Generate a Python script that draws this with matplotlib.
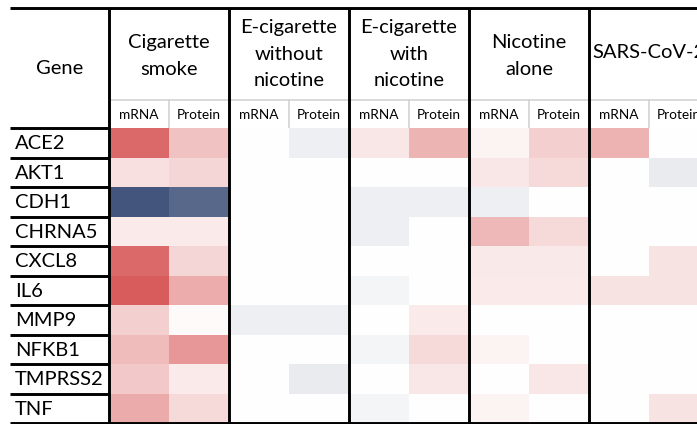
import numpy as np
import matplotlib
matplotlib.use("Agg")
import matplotlib.pyplot as plt
from matplotlib.colors import LinearSegmentedColormap

plt.rcParams['font.family'] = ['Lato', 'DejaVu Sans']

# data: log-fold-change like scores, (mRNA, Protein) per gene
genes = ['ACE2', 'AKT1', 'CDH1', 'CHRNA5', 'CXCL8', 'IL6', 'MMP9', 'NFKB1', 'TMPRSS2', 'TNF']
groups = ['Cigarette\nsmoke', 'E-cigarette\nwithout\nnicotine', 'E-cigarette\nwith\nnicotine',
          'Nicotine\nalone', 'SARS-CoV-2']
measures = ['mRNA', 'Protein']

cigarette_smoke = [(0.82, 0.33), (0.17, 0.22), (-0.95, -0.85), (0.11, 0.11), (0.82, 0.22),
                   (0.89, 0.45), (0.26, 0.03), (0.37, 0.57), (0.30, 0.11), (0.46, 0.20)]
ecig_without_nic = [(0.0, -0.09), (0.0, 0.0), (0.0, 0.0), (0.0, 0.0), (0.0, 0.0),
                    (0.0, 0.0), (-0.09, -0.09), (0.0, 0.0), (0.0, -0.11), (0.0, 0.0)]
ecig_with_nic = [(0.14, 0.41), (0.0, 0.0), (-0.09, -0.09), (-0.09, 0.0), (0.0, 0.0),
                 (-0.06, 0.0), (0.0, 0.11), (-0.06, 0.20), (0.0, 0.14), (-0.06, 0.0)]
nicotine_alone = [(0.07, 0.26), (0.14, 0.20), (-0.09, 0.0), (0.39, 0.20), (0.12, 0.12),
                  (0.11, 0.11), (0.0, 0.0), (0.07, 0.0), (0.0, 0.14), (0.07, 0.0)]
sars_cov2 = [(0.42, 0.0), (0.0, -0.11), (0.0, 0.0), (0.0, 0.0), (0.0, 0.15),
             (0.15, 0.15), (0.0, 0.0), (0.0, 0.0), (0.0, 0.0), (0.0, 0.15)]

data = np.hstack([np.array(g) for g in
                  [cigarette_smoke, ecig_without_nic, ecig_with_nic, nicotine_alone, sars_cov2]])

cmap = LinearSegmentedColormap.from_list('bwr_tab', ['#3A4D76', '#FFFFFF', '#D44848'])

# layout in pixels
W, H = 697, 424
left, gene_right = 10, 109
top, sub_top, head_bottom, bottom = 8, 100, 128, 423
col_w = 60
row_h = (bottom - head_bottom) / len(genes)

fig = plt.figure(figsize=(W / 100, H / 100), dpi=100)
ax = fig.add_axes([0, 0, 1, 1])
ax.set_xlim(0, W)
ax.set_ylim(H, 0)
ax.axis('off')

x_edges = gene_right + col_w * np.arange(data.shape[1] + 1)
y_edges = head_bottom + row_h * np.arange(len(genes) + 1)
ax.pcolormesh(x_edges, y_edges, data, cmap=cmap, vmin=-1, vmax=1, zorder=1)

lw = 2.1
# table rules
ax.hlines([top, bottom], left, W, color='black', lw=lw, zorder=3)
ax.hlines(y_edges[:-1], left, gene_right, color='black', lw=lw, zorder=3)
group_x = gene_right + 2 * col_w * np.arange(len(groups))
ax.vlines(group_x, top, bottom, color='black', lw=lw, zorder=3)
ax.hlines(sub_top, gene_right, W, color='#D0D0D0', lw=1.1, zorder=2)
ax.vlines(group_x + col_w, sub_top, head_bottom, color='#D0D0D0', lw=1.1, zorder=2)

fs = 14.5
# header text
ax.text((left + gene_right) / 2, 68, 'Gene', ha='center', va='center', fontsize=fs)
title_y = [56, 54, 54, 56, 53]
for gx, name, ty in zip(group_x, groups, title_y):
    ax.text(gx + col_w, ty, name, ha='center', va='center', fontsize=fs, linespacing=1.66)
    for k, m in enumerate(measures):
        ax.text(gx + col_w * (k + 0.5), (sub_top + head_bottom) / 2 + 1, m,
                ha='center', va='center', fontsize=9.8)

# gene labels
for i, g in enumerate(genes):
    ax.text(left + 5, head_bottom + row_h * (i + 0.5) + 1, g, ha='left', va='center', fontsize=fs)

fig.savefig('out.png', dpi=100)
